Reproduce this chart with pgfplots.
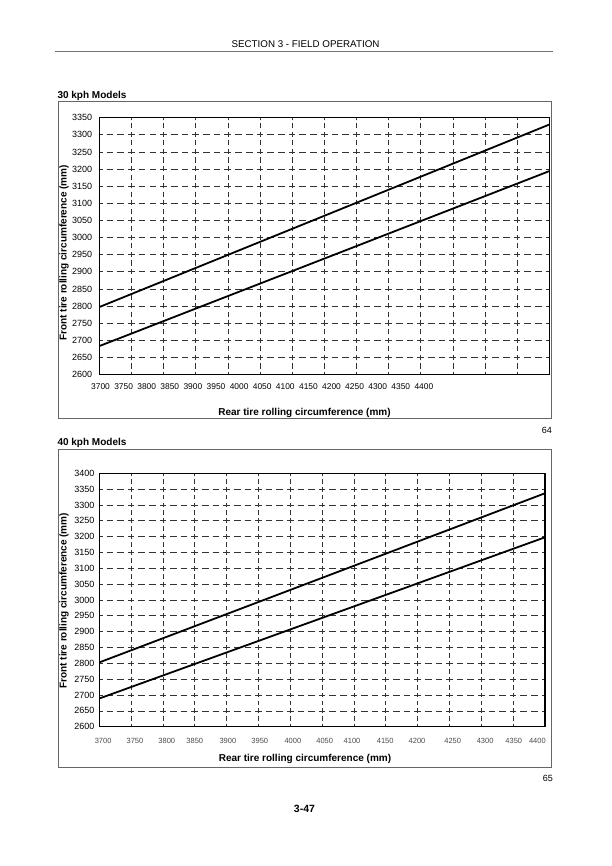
\documentclass[border=0pt]{standalone}
\usepackage{pgfplots}
\pgfplotsset{compat=1.18}
\usepackage{fontspec}
\setmainfont{Liberation Sans}
\begin{document}
\begin{tikzpicture}
\path[use as bounding box, fill=white] (0pt,0pt) rectangle (612pt,-866pt);

% page header
\node[anchor=base, inner sep=0pt, font=\fontsize{9.8}{12}\selectfont] at (305.5pt,-47.3pt) {SECTION 3 - FIELD OPERATION};
\draw[line width=1.4pt, black!55] (55pt,-51.7pt) -- (553pt,-51.7pt);

% ---------------- 30 kph ----------------
\node[anchor=base west, inner sep=0pt, font=\bfseries\fontsize{10}{12}\selectfont] at (57.3pt,-98.3pt) {30 kph Models};
\draw[line width=1pt, black!60] (58.3pt,-102pt) rectangle (551.7pt,-418.3pt);
\node[anchor=base east, inner sep=0pt, font=\fontsize{9}{11}\selectfont] at (552pt,-433pt) {64};

\begin{axis}[
  at={(99.3pt,-374.5pt)}, anchor=south west,
  scale only axis, width=450pt, height=256.8pt,
  xmin=3700, xmax=4400, ymin=2600, ymax=3350,
  xtick={3700,3750,...,4400}, xticklabels={},
  ytick={2600,2650,...,3350},
  /pgf/number format/1000 sep={},
  /pgf/number format/assume math mode=true,
  grid=major,
  x grid style={line width=0.7pt, color=black!80, dash pattern=on 5.2pt off 3.38pt, dash phase=2.6pt},
  y grid style={line width=0.7pt, color=black!80, dash pattern=on 6.7pt off 4.01pt, dash phase=3.35pt},
  axis line style={line width=1.2pt, black},
  tick style={draw=none},
  yticklabel style={font=\fontsize{9}{11}\selectfont, xshift=-3.6pt},
  xticklabel style={font=\fontsize{8.4}{10}\selectfont, yshift=-5.2pt},
  extra x ticks={3701.9,3737.8,3773.8,3809.7,3845.6,3881.6,3917.5,3953.4,3989.3,4025.3,4061.2,4097.1,4133.1,4169.0,4204.9},
  extra x tick labels={3700,3750,3800,3850,3900,3950,4000,4050,4100,4150,4200,4250,4300,4350,4400},
  extra x tick style={grid=none},
  label style={font=\bfseries\fontsize{10}{12}\selectfont},
  xlabel={Rear tire rolling circumference (mm)},
  ylabel={Front tire rolling circumference (mm)},
  xlabel style={at={(axis description cs:0.456,-0.1586)}, anchor=base},
  ylabel style={at={(axis description cs:-0.0724,0.474)}, anchor=base},
]
\addplot[black, line width=1.8pt] coordinates {(3700,2797) (4400,3330)};
\addplot[black, line width=1.8pt] coordinates {(3700,2683) (4400,3194)};
\end{axis}

% ---------------- 40 kph ----------------
\node[anchor=base west, inner sep=0pt, font=\bfseries\fontsize{10}{12}\selectfont] at (57.3pt,-445pt) {40 kph Models};
\draw[line width=1pt, black!60] (58.3pt,-449pt) rectangle (551.7pt,-767.7pt);
\node[anchor=base east, inner sep=0pt, font=\fontsize{9}{11}\selectfont] at (553pt,-781.7pt) {65};

\begin{axis}[
  at={(99.3pt,-726.7pt)}, anchor=south west,
  scale only axis, width=445.7pt, height=253.4pt,
  xmin=3700, xmax=4400, ymin=2600, ymax=3400,
  xtick={3700,3750,...,4400}, xticklabels={},
  ytick={2600,2650,...,3400},
  /pgf/number format/1000 sep={},
  /pgf/number format/assume math mode=true,
  grid=major,
  x grid style={line width=0.7pt, color=black!80, dash pattern=on 4.8pt off 3.12pt, dash phase=2.4pt},
  y grid style={line width=0.7pt, color=black!80, dash pattern=on 6.6pt off 4.01pt, dash phase=3.3pt},
  axis line style={line width=1.2pt, black},
  tick style={draw=none},
  yticklabel style={font=\fontsize{9}{11}\selectfont, xshift=-1.3pt},
  xticklabel style={font=\fontsize{7.5}{9}\selectfont, text=black!70, yshift=-8.3pt},
  extra x ticks={3706,3756,3806,3850,3902,3952,4004,4054,4097,4149,4199,4255,4306,4351,4388},
  extra x tick labels={3700,3750,3800,3850,3900,3950,{\raisebox{-2.3pt}{4000}},4050,4100,4150,4200,4250,4300,4350,4400},
  extra x tick style={grid=none},
  label style={font=\bfseries\fontsize{10}{12}\selectfont},
  xlabel={Rear tire rolling circumference (mm)},
  ylabel={Front tire rolling circumference (mm)},
  xlabel style={at={(axis description cs:0.4615,-0.136)}, anchor=base},
  ylabel style={at={(axis description cs:-0.0734,0.497)}, anchor=base},
]
\addplot[black, line width=1.8pt] coordinates {(3700,2803) (4400,3337)};
\addplot[black, line width=1.8pt] coordinates {(3700,2689) (4400,3198)};
\end{axis}

\node[anchor=base, inner sep=0pt, font=\bfseries\fontsize{10.5}{12}\selectfont] at (304.5pt,-812.7pt) {3-47};
\end{tikzpicture}
\end{document}
